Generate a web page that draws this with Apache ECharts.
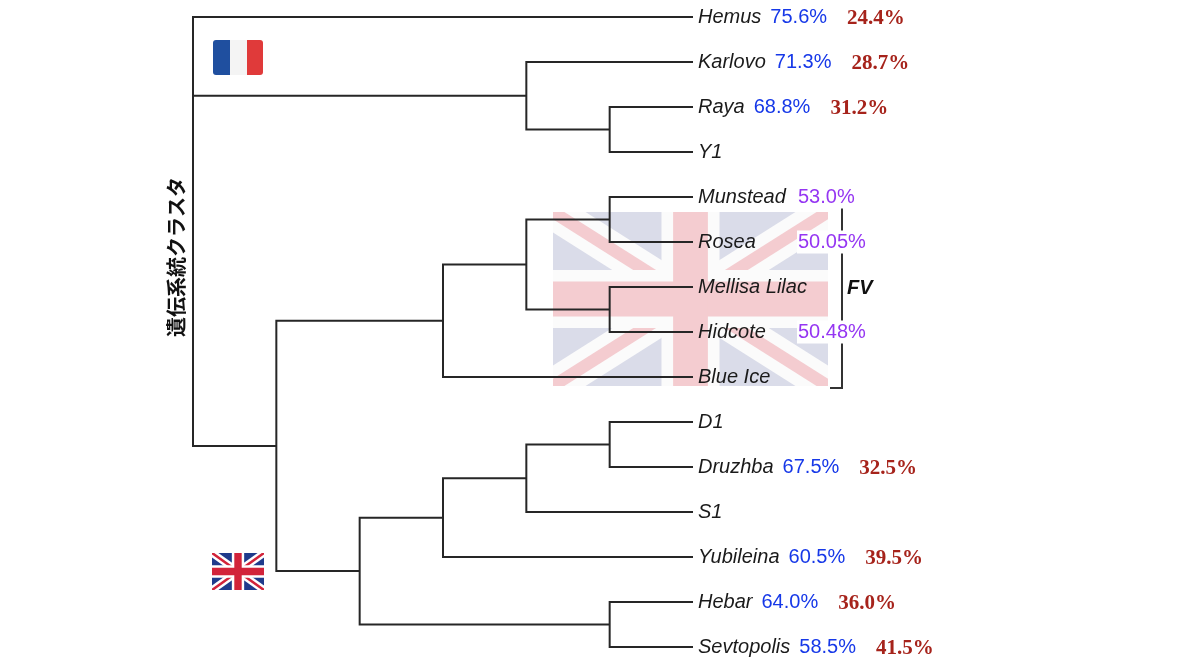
<!DOCTYPE html>
<html>
<head>
<meta charset="utf-8">
<title>遺伝系統クラスタ</title>
<script src="https://cdn.jsdelivr.net/npm/echarts@6/dist/echarts.min.js"></script>
<style>
    html, body { margin: 0; padding: 0; background: #fff; }
    #chart { width: 1200px; height: 663px; }
</style>
</head>
<body>
<div id="chart"></div>
<script>
(function () {
    'use strict';

    // leaves, top to bottom
    var leaves = ['Hemus', 'Karlovo', 'Raya', 'Y1', 'Munstead', 'Rosea', 'Mellisa Lilac', 'Hidcote', 'Blue Ice',
        'D1', 'Druzhba', 'S1', 'Yubileina', 'Hebar', 'Sevtopolis'];
    var bluePct = ['75.6%', '71.3%', '68.8%', '', '', '', '', '', '', '', '67.5%', '', '60.5%', '64.0%', '58.5%'];
    var redPct = ['24.4%', '28.7%', '31.2%', '', '', '', '', '', '', '', '32.5%', '', '39.5%', '36.0%', '41.5%'];
    var fvPct = ['', '', '', '', '53.0%', '50.05%', '', '50.48%', '', '', '', '', '', '', ''];

    // merges: [child a, child b, height]; ids 0..14 are leaves, 15.. are merges in order
    var merges = [
        [2, 3, 1], [1, 15, 2], [0, 16, 6],
        [4, 5, 1], [6, 7, 1], [18, 19, 2], [20, 8, 3],
        [9, 10, 1], [22, 11, 2], [23, 12, 3], [13, 14, 1], [24, 25, 4],
        [21, 26, 5], [17, 27, 6]
    ];
    var fvGroup = [4, 8];
    var fvName = 'FV';
    var axisTitle = '遺伝系統クラスタ';

    //layout: each merge sits midway between its children
    var nodeY = leaves.map(function (n, i) { return i; });
    var nodeH = leaves.map(function () { return 0; });
    var links = merges.map(function (m) {
        var link = [nodeH[m[0]], nodeY[m[0]], m[2], nodeY[m[1]], nodeH[m[1]]];
        nodeY.push((nodeY[m[0]] + nodeY[m[1]]) / 2);
        nodeH.push(m[2]);
        return link;
    });

    var sans = 'Liberation Sans, Arial, Helvetica, sans-serif';

    function renderLink(params, api) {
        var a = api.coord([api.value(0), api.value(1)]);
        var ma = api.coord([api.value(2), api.value(1)]);
        var mb = api.coord([api.value(2), api.value(3)]);
        var b = api.coord([api.value(4), api.value(3)]);
        return {
            type: 'polyline',
            shape: { points: [a, ma, mb, b] },
            style: { stroke: '#262626', lineWidth: 2, fill: null }
        };
    }

    function renderBracket(params, api) {
        var top = api.coord([0, api.value(0)]);
        var bot = api.coord([0, api.value(1)]);
        var x = top[0] + 149;
        return {
            type: 'group',
            children: [
                {
                    type: 'polyline',
                    shape: { points: [[x, top[1] + 11], [x, bot[1] + 11], [x - 12, bot[1] + 11]] },
                    style: { stroke: '#333', lineWidth: 2, fill: null }
                },
                {
                    type: 'text',
                    x: x + 5,
                    y: (top[1] + bot[1]) / 2 + 1,
                    style: {
                        text: fvName, fill: '#111', font: 'italic bold 20px ' + sans,
                        textAlign: 'left', textVerticalAlign: 'middle'
                    }
                }
            ]
        };
    }

    function leafLabel(p) {
        var i = p.dataIndex;
        var s = (fvPct[i] ? '{nameFV|' : '{name|') + leaves[i] + '}';
        if (bluePct[i]) s += '{blue|' + bluePct[i] + '}';
        if (redPct[i]) s += '{red|' + redPct[i] + '}';
        if (fvPct[i]) s += '{purple|' + fvPct[i] + '}';
        return s;
    }

    //polygon band along a diagonal, clipped to the w x h box
    function diag(x, y, w, h, t, down) {
        var len = Math.sqrt(w * w + h * h);
        var a = t * len / h, b = t * len / w;
        var pts = down ?
            [[0, 0], [a, 0], [w, h - b], [w, h], [w - a, h], [0, b]] :
            [[w, 0], [w, b], [a, h], [0, h], [0, h - b], [w - a, 0]];
        return pts.map(function (q) { return [x + q[0], y + q[1]]; });
    }

    function ukFlag(x, y, w, h, c, z) {
        var els = [];
        els.push({ type: 'rect', z: z, shape: { x: x, y: y, width: w, height: h }, style: { fill: c.blue } });
        els.push({ type: 'polygon', z: z, shape: { points: diag(x, y, w, h, h * 0.1, true) }, style: { fill: c.white } });
        els.push({ type: 'polygon', z: z, shape: { points: diag(x, y, w, h, h * 0.1, false) }, style: { fill: c.white } });
        els.push({ type: 'polygon', z: z, shape: { points: diag(x, y, w, h, h * 0.035, true) }, style: { fill: c.red } });
        els.push({ type: 'polygon', z: z, shape: { points: diag(x, y, w, h, h * 0.035, false) }, style: { fill: c.red } });
        els.push({ type: 'rect', z: z, shape: { x: x, y: y + h / 3, width: w, height: h / 3 }, style: { fill: c.white } });
        els.push({ type: 'rect', z: z, shape: { x: x + w / 2 - h / 6, y: y, width: h / 3, height: h }, style: { fill: c.white } });
        els.push({ type: 'rect', z: z, shape: { x: x, y: y + h * 0.4, width: w, height: h * 0.2 }, style: { fill: c.red } });
        els.push({ type: 'rect', z: z, shape: { x: x + w / 2 - h * 0.1, y: y, width: h * 0.2, height: h }, style: { fill: c.red } });
        return els;
    }

    var graphics = []
        .concat(ukFlag(553, 212, 275, 174, { blue: '#dadce9', white: '#fbfbfb', red: '#f4ccd0' }, 0))
        .concat(ukFlag(212, 553, 52, 37, { blue: '#1f3b8c', white: '#ffffff', red: '#d2233a' }, 1))
        .concat([
            { type: 'rect', z: 1, shape: { x: 213, y: 40, width: 17, height: 35, r: [3, 0, 0, 3] }, style: { fill: '#1f4f9f' } },
            { type: 'rect', z: 1, shape: { x: 230, y: 40, width: 17, height: 35 }, style: { fill: '#f4f4f4' } },
            { type: 'rect', z: 1, shape: { x: 247, y: 40, width: 16, height: 35, r: [0, 3, 3, 0] }, style: { fill: '#e03a3a' } },
            {
                type: 'text', z: 1, x: 176, y: 257, rotation: Math.PI / 2,
                style: {
                    text: axisTitle, fill: '#111', font: 'bold 20px "Noto Sans CJK JP", sans-serif',
                    textAlign: 'center', textVerticalAlign: 'middle'
                }
            }
        ]);

    var myChart = echarts.init(document.getElementById('chart'));
    var option = {
        backgroundColor: '#fff',
        animation: false,
        grid: { left: 193, right: 507, top: 17, bottom: 16 },
        xAxis: { type: 'value', min: 0, max: 6, inverse: true, show: false },
        yAxis: { type: 'value', min: 0, max: 14, inverse: true, show: false },
        graphic: { elements: graphics },
        series: [
            {
                type: 'custom',
                z: 3,
                renderItem: renderLink,
                encode: { x: [0, 2, 4], y: [1, 3] },
                data: links,
                silent: true
            },
            {
                type: 'custom',
                z: 3,
                renderItem: renderBracket,
                encode: { y: [0, 1] },
                data: [fvGroup],
                silent: true
            },
            {
                type: 'scatter',
                z: 5,
                symbolSize: 0,
                silent: true,
                itemStyle: { opacity: 1 },
                data: leaves.map(function (n, i) { return [0, i]; }),
                label: {
                    show: true,
                    opacity: 1,
                    position: 'right',
                    distance: 5,
                    formatter: leafLabel,
                    rich: {
                        name: { fontFamily: sans, fontStyle: 'italic', fontSize: 20, color: '#1a1a1a', lineHeight: 24, verticalAlign: 'middle' },
                        nameFV: { fontFamily: sans, fontStyle: 'italic', fontSize: 20, color: '#1a1a1a', width: 99, lineHeight: 24, verticalAlign: 'middle' },
                        blue: { fontFamily: sans, fontSize: 20, color: '#1638e8', padding: [0, 0, 0, 9], lineHeight: 24, verticalAlign: 'middle' },
                        red: { fontFamily: 'Liberation Serif, Times New Roman, serif', fontWeight: 'bold', fontSize: 21, color: '#a6231b', padding: [3, 0, 0, 20], lineHeight: 24, verticalAlign: 'middle' },
                        purple: { fontFamily: sans, fontSize: 20, color: '#9536f2', backgroundColor: '#fff', padding: [2, 2, 1, 1], lineHeight: 24, verticalAlign: 'middle' }
                    }
                }
            }
        ]
    };
    myChart.setOption(option);
})();
</script>
</body>
</html>
